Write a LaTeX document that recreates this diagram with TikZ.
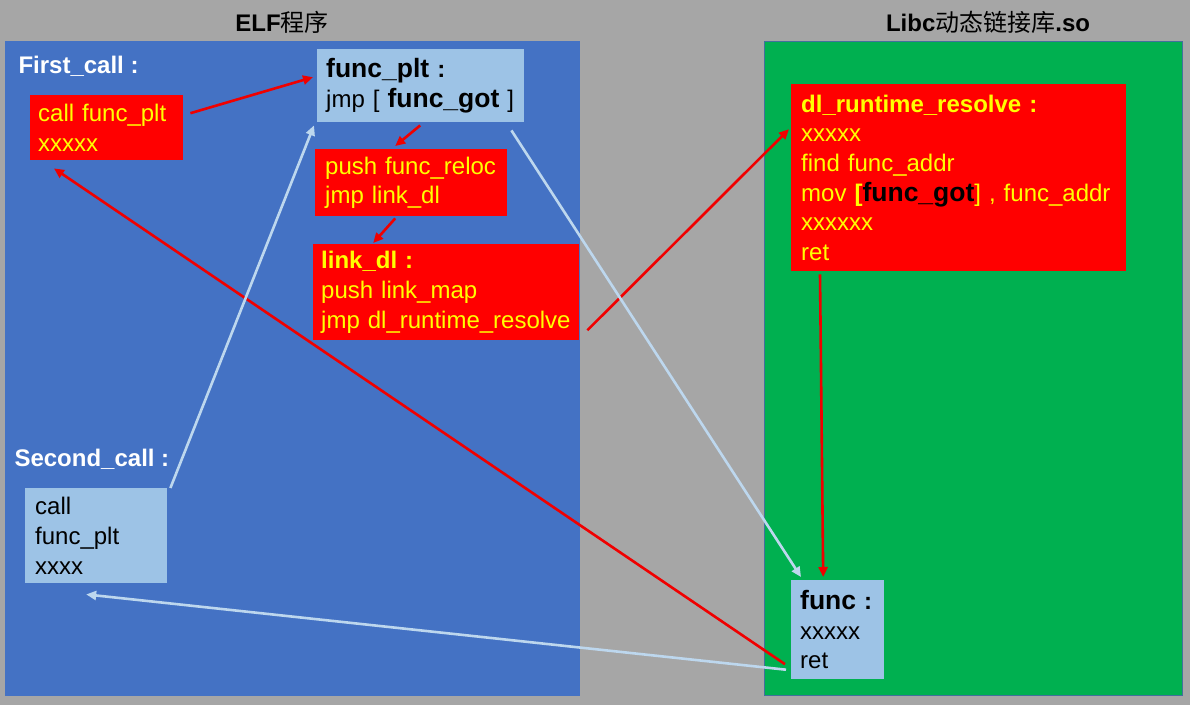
\documentclass[tikz,border=0pt]{standalone}
\usepackage{fontspec}
\setmainfont{Liberation Sans}
\newfontfamily\cjk{Noto Sans CJK SC}
\usetikzlibrary{arrows.meta}
\definecolor{bggray}{HTML}{A6A6A6}
\definecolor{elfblue}{HTML}{4472C4}
\definecolor{libgreen}{HTML}{00B050}
\definecolor{lightbox}{HTML}{9DC3E6}
\definecolor{boxred}{HTML}{FF0000}
\definecolor{txtyellow}{HTML}{FFFF00}
\definecolor{arrowblue}{HTML}{BDD7EE}
\definecolor{arrowred}{HTML}{F00000}
\definecolor{greenedge}{HTML}{41719C}
\newcommand{\bigb}[1]{{\fontsize{26.5}{29.6}\selectfont\bfseries #1}}
\begin{document}
\begin{tikzpicture}[x=1pt,y=-1pt,
  every node/.style={font=\fontsize{24}{29.6}\selectfont},
  rbox/.style={anchor=north west, align=left, inner ysep=0pt, fill=boxred, text=txtyellow},
  bbox/.style={anchor=north west, align=left, inner ysep=0pt, fill=lightbox, text=black},
  lbl/.style={anchor=west, text=white, font=\fontsize{24}{29.6}\selectfont\bfseries},
  ttl/.style={text=black},
  redarrow/.style={draw=arrowred, line width=2.6pt, -{Triangle[length=10pt,width=9pt]}},
  bluearrow/.style={draw=arrowblue, line width=2.6pt, -{Triangle[length=10pt,width=9pt]}}]
\useasboundingbox (0,0) rectangle (1190,705);
\fill[bggray] (0,0) rectangle (1190,705);
\fill[elfblue] (5,41) rectangle (580,696);
\filldraw[fill=libgreen, draw=greenedge, line width=0.75pt] (764,41) rectangle (1182,695);

\node[ttl] (t1) at (282,22) {{\bfseries ELF}{\cjk 程序}};
\node[ttl] (t2) at (988,22) {{\bfseries Libc}{\cjk 动态链接库}{\bfseries .so}};

\node[lbl] (first) at (15,66) {First\_call :};
\node[lbl] (second) at (11,459) {Second\_call :};

\node[rbox, inner xsep=8pt, text width=137pt, minimum height=65pt] (call1) at (30,95) {call func\_plt\\xxxxx};
\node[bbox, inner xsep=9pt, text width=189pt, minimum height=73pt] (plt) at (317,49) {\bigb{func\_plt} {\bfseries :}\\jmp [ \bigb{func\_got} ]};
\node[rbox, inner xsep=10pt, text width=172pt, minimum height=67pt] (push) at (315,149) {push func\_reloc\\jmp link\_dl};
\node[rbox, inner xsep=8pt, text width=250pt, minimum height=96pt] (linkdl) at (313,244) {{\bfseries link\_dl :}\\push link\_map\\jmp dl\_runtime\_resolve};
\node[bbox, inner xsep=10pt, text width=122pt, minimum height=95pt] (call2) at (25,488) {call\\func\_plt\\xxxx};
\node[rbox, inner xsep=10pt, text width=315pt, minimum height=187pt] (dlr) at (791,84) {{\bfseries dl\_runtime\_resolve :}\\xxxxx\\find func\_addr\\mov {\bfseries[}\textcolor{black}{\bigb{func\_got}}] , func\_addr\\xxxxxx\\ret};
\node[bbox, inner xsep=9pt, text width=75pt, minimum height=99pt] (func) at (791,580) {\bigb{func} {\bfseries :}\\xxxxx\\ret};

\draw[redarrow] ([shift={(7,-14.5)}]call1.east) -- ([shift={(-4,-8.5)}]plt.west);
\draw[redarrow] ([shift={(-0.5,3)}]plt.south) -- ([shift={(-16,-3)}]push.north);
\draw[redarrow] ([shift={(-16,2)}]push.south) -- ([shift={(-73,-1)}]linkdl.north);
\draw[redarrow] ([shift={(8,38)}]linkdl.east) -- ([shift={(-2,-48.5)}]dlr.west);
\draw[redarrow] ([shift={(29,3)}]dlr.south west) -- ([shift={(-14.5,-3)}]func.north);
\draw[redarrow] ([shift={(-6,34.5)}]func.west) -- ([shift={(24,8)}]call1.south west);
\draw[bluearrow] ([shift={(3,0)}]call2.north east) -- ([shift={(-3,3)}]plt.south west);
\draw[bluearrow] ([shift={(-13,8)}]plt.south east) -- ([shift={(10,-3)}]func.north west);
\draw[bluearrow] ([shift={(-5,40)}]func.west) -- ([shift={(-10,11)}]call2.south);
\end{tikzpicture}
\end{document}
